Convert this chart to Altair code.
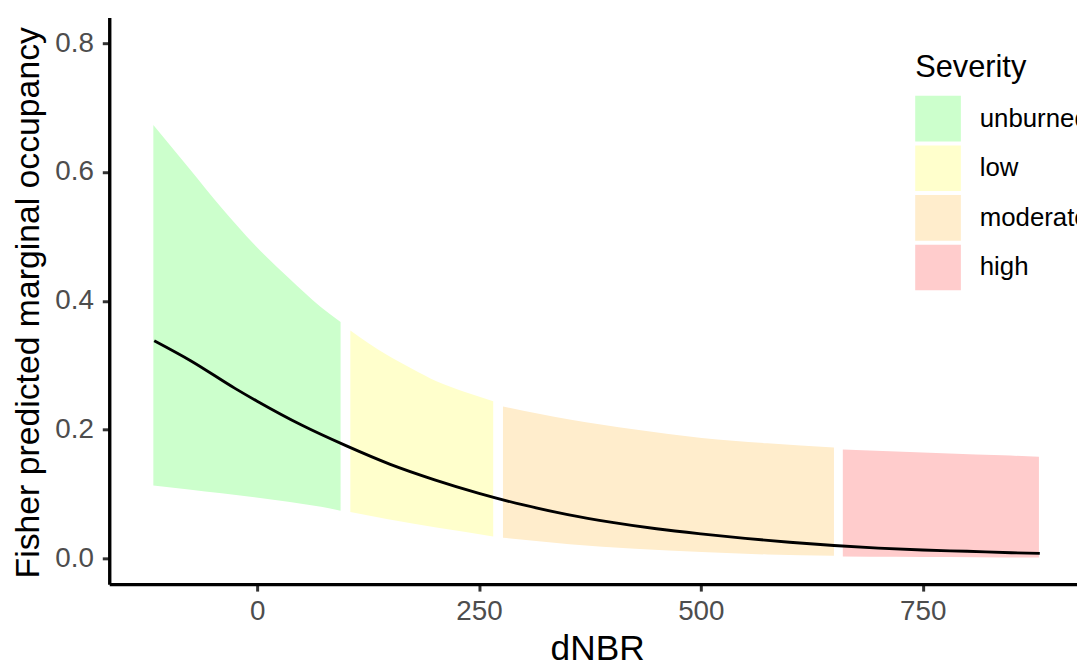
import altair as alt
import pandas as pd

# Predicted marginal occupancy (line)
line_x = [-116, -75, -25, 0, 50, 100, 150, 200, 250, 300, 350, 400, 450, 500,
          550, 600, 650, 700, 750, 800, 850, 882]
line_y = [0.338, 0.307, 0.264, 0.244, 0.207, 0.175, 0.146, 0.122, 0.101, 0.083,
          0.068, 0.056, 0.046, 0.038, 0.031, 0.025, 0.020, 0.016, 0.013, 0.011,
          0.0088, 0.0077]

# Confidence ribbons per severity class
unburned_x = [-117, -77, -40, -3, 35, 72, 94]
unburned_lo = [0.113, 0.107, 0.101, 0.095, 0.088, 0.080, 0.074]
unburned_hi = [0.673, 0.606, 0.544, 0.487, 0.436, 0.390, 0.367]

low_x = [105, 146, 175, 202, 235, 266]
low_lo = [0.072, 0.061, 0.054, 0.048, 0.041, 0.034]
low_hi = [0.354, 0.316, 0.294, 0.275, 0.258, 0.244]

moderate_x = [277, 352, 426, 501, 575, 650]
moderate_lo = [0.032, 0.022, 0.015, 0.010, 0.006, 0.004]
moderate_hi = [0.236, 0.2155, 0.200, 0.187, 0.1786, 0.172]

high_x = [660, 720, 780, 840, 881]
high_lo = [0.003, 0.0025, 0.002, 0.0015, 0.0012]
high_hi = [0.169, 0.166, 0.163, 0.160, 0.158]

severity = ["unburned", "low", "moderate", "high"]
severity_colors = ["#CCFFCC", "#FFFFCC", "#FFEDCC", "#FFCCCC"]

x_ticks = [0, 250, 500, 750]
y_ticks = [0.0, 0.2, 0.4, 0.6, 0.8]

rows = []
for name, xs, lo, hi in [("unburned", unburned_x, unburned_lo, unburned_hi),
                         ("low", low_x, low_lo, low_hi),
                         ("moderate", moderate_x, moderate_lo, moderate_hi),
                         ("high", high_x, high_lo, high_hi)]:
    for a, b, c in zip(xs, lo, hi):
        rows.append({"dNBR": a, "lower": b, "upper": c, "Severity": name})
ribbons = pd.DataFrame(rows)
line_df = pd.DataFrame({"dNBR": line_x, "pred": line_y})

FONT = "Liberation Sans"
xscale = alt.Scale(domain=[-166.7, 923.9], nice=False, zero=False)
yscale = alt.Scale(domain=[-0.04, 0.84], nice=False, zero=False)

area = alt.Chart(ribbons).mark_area(opacity=1, interpolate="monotone").encode(
    x=alt.X("dNBR:Q", scale=xscale,
            axis=alt.Axis(values=x_ticks, title="dNBR", titleX=491.5,
                          titleY=76, titleBaseline="alphabetic",
                          labelBaseline="alphabetic", labelPadding=29)),
    y=alt.Y("lower:Q", scale=yscale,
            axis=alt.Axis(values=y_ticks, format=".1f",
                          title="Fisher predicted marginal occupancy",
                          titleX=-71, titleY=287, titleBaseline="alphabetic",
                          titleFontSize=34, labelPadding=9)),
    y2="upper:Q",
    color=alt.Color("Severity:N",
                    scale=alt.Scale(domain=severity, range=severity_colors),
                    legend=alt.Legend(orient="none", legendX=812, legendY=36,
                                      symbolType="square", symbolSize=2116,
                                      symbolStrokeWidth=0, symbolOpacity=1,
                                      labelOffset=19, rowPadding=4, padding=0,
                                      titlePadding=12)),
    detail="Severity:N",
)

line = alt.Chart(line_df).mark_line(color="black", strokeWidth=2.9,
                                    interpolate="monotone").encode(
    x=alt.X("dNBR:Q", scale=xscale),
    y=alt.Y("pred:Q", scale=yscale),
)

chart = (area + line).properties(
    width=975, height=571,
    autosize=alt.AutoSizeParams(type="none"),
    padding={"left": 102, "top": 7, "right": 0, "bottom": 81},
).configure_view(stroke=None).configure_axis(
    grid=False,
    domainColor="black", domainWidth=3.4,
    tickColor="#333333", tickWidth=3, tickSize=7,
    labelColor="#4D4D4D", labelFont=FONT, labelFontSize=28,
    titleFont=FONT, titleFontSize=35.5, titleFontWeight="normal", titleColor="black",
).configure_legend(
    titleFont=FONT, titleFontSize=31, titleFontWeight="normal", titleColor="black",
    labelFont=FONT, labelFontSize=26, labelColor="black",
)

chart.save("out.html", embed_options={"renderer": "svg", "actions": False})
